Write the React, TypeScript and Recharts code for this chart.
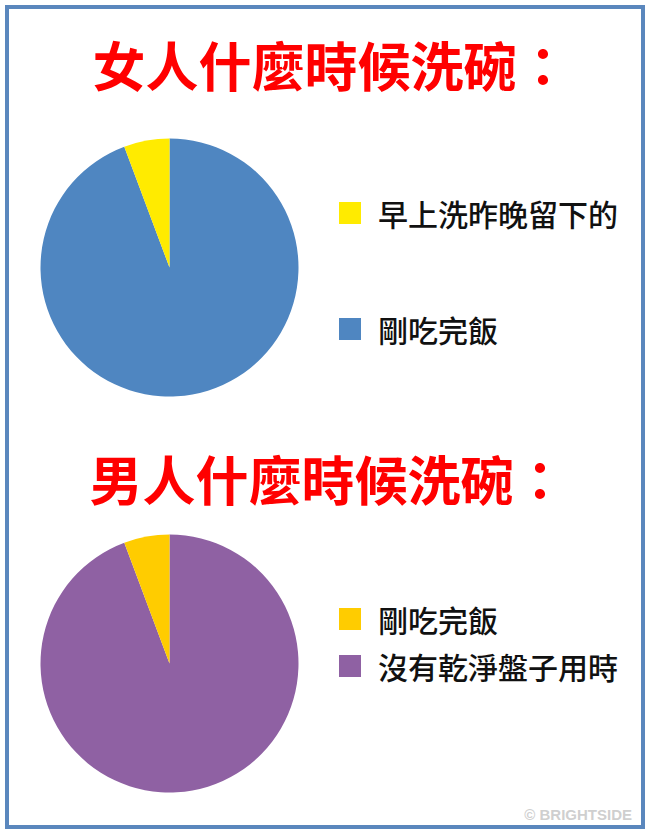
import { PieChart, Pie, Cell, Legend } from 'recharts';

const womenCategories = ['剛吃完飯', '早上洗昨晚留下的'];
const womenValues = [94.3, 5.7];
const womenColors = ['#4f86c1', '#ffeb00'];

const menCategories = ['沒有乾淨盤子用時', '剛吃完飯'];
const menValues = [94.3, 5.7];
const menColors = ['#8f61a3', '#ffcc00'];

const titles = ['女人什麼時候洗碗：', '男人什麼時候洗碗：'];

const CJK = '"Noto Sans CJK TC", "Noto Sans CJK SC", sans-serif';

const womenData = womenCategories.map((name, i) => ({ name, value: womenValues[i] }));
const menData = menCategories.map((name, i) => ({ name, value: menValues[i] }));

// legend lists the small slice first, like the original
const SquareLegend = ({ names, colors, gap }: { names: string[]; colors: string[]; gap: number }) => (
    <div style={{ position: 'relative', width: 300, height: gap + 30 }}>
        {names.map((name, i) => (
            <div
                key={name}
                style={{ position: 'absolute', left: 0, top: i * gap, height: 24, display: 'flex', alignItems: 'center' }}
            >
                <div style={{ width: 22, height: 22, background: colors[i], marginRight: 17 }} />
                <span
                    style={{
                        fontFamily: CJK,
                        fontSize: 30,
                        fontWeight: 500,
                        lineHeight: '24px',
                        color: '#111',
                        whiteSpace: 'nowrap',
                    }}
                >
                    {name}
                </span>
            </div>
        ))}
    </div>
);

export default function App() {
    return (
        <div style={{ position: 'absolute', left: 0, top: 0, width: 650, height: 833, background: '#fff', overflow: 'hidden' }}>
            <div
                style={{
                    position: 'absolute',
                    left: 5,
                    top: 5,
                    width: 640,
                    height: 824,
                    border: '4px solid #5a87bd',
                    boxSizing: 'border-box',
                }}
            />

            <div style={{ position: 'absolute', left: 0, top: 0 }}>
                <PieChart width={650} height={416}>
                    <Pie
                        data={womenData}
                        dataKey="value"
                        nameKey="name"
                        cx={164.5}
                        cy={262.5}
                        outerRadius={129}
                        startAngle={90}
                        endAngle={-270}
                        stroke="none"
                        isAnimationActive={false}
                    >
                        {womenData.map((entry, index) => (
                            <Cell key={`w-${index}`} fill={womenColors[index]} />
                        ))}
                    </Pie>
                    <Legend
                        wrapperStyle={{ position: 'absolute', left: 339, top: 201, width: 300 }}
                        content={() => (
                            <SquareLegend
                                names={[...womenCategories].reverse()}
                                colors={[...womenColors].reverse()}
                                gap={116}
                            />
                        )}
                    />
                </PieChart>
            </div>

            <div style={{ position: 'absolute', left: 0, top: 416 }}>
                <PieChart width={650} height={417}>
                    <Pie
                        data={menData}
                        dataKey="value"
                        nameKey="name"
                        cx={164.5}
                        cy={242.5}
                        outerRadius={129}
                        startAngle={90}
                        endAngle={-270}
                        stroke="none"
                        isAnimationActive={false}
                    >
                        {menData.map((entry, index) => (
                            <Cell key={`m-${index}`} fill={menColors[index]} />
                        ))}
                    </Pie>
                    <Legend
                        wrapperStyle={{ position: 'absolute', left: 339, top: 191, width: 300 }}
                        content={() => (
                            <SquareLegend
                                names={[...menCategories].reverse()}
                                colors={[...menColors].reverse()}
                                gap={47}
                            />
                        )}
                    />
                </PieChart>
            </div>

            <svg width={650} height={833} style={{ position: 'absolute', left: 0, top: 0, pointerEvents: 'none' }}>
                <text x={331} y={87} textAnchor="middle" fill="#ff0000" fontFamily={CJK} fontWeight={700} fontSize={53}>
                    {titles[0]}
                </text>
                <text x={328} y={501} textAnchor="middle" fill="#ff0000" fontFamily={CJK} fontWeight={700} fontSize={53}>
                    {titles[1]}
                </text>
                <text
                    x={632}
                    y={820}
                    textAnchor="end"
                    fill="#cfcfcf"
                    fontFamily='"Liberation Sans", Arial, sans-serif'
                    fontWeight={700}
                    fontSize={15}
                >
                    © BRIGHTSIDE
                </text>
            </svg>
        </div>
    );
}
